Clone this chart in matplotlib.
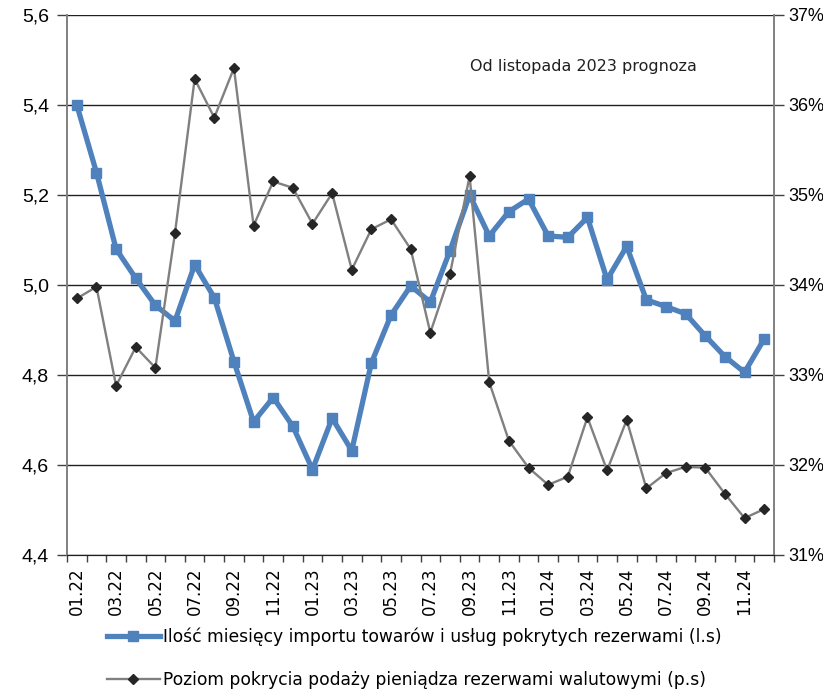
import matplotlib
matplotlib.use("Agg")
import matplotlib.pyplot as plt
from matplotlib.ticker import FixedLocator, FuncFormatter

# miesiace 01.22 - 12.24
months = ["%02d.%02d" % (m, y) for y in (22, 23, 24) for m in range(1, 13)]

# ilosc miesiecy importu pokrytych rezerwami (lewa os)
import_months = [5.40, 5.25, 5.08, 5.015, 4.955, 4.92, 5.045, 4.972, 4.83, 4.696,
                 4.75, 4.686, 4.59, 4.704, 4.632, 4.827, 4.933, 4.998, 4.962, 5.076,
                 5.20, 5.109, 5.163, 5.191, 5.109, 5.106, 5.150, 5.012, 5.086, 4.967,
                 4.952, 4.936, 4.887, 4.841, 4.806, 4.880]

# poziom pokrycia podazy pieniadza rezerwami (prawa os, %)
money_cover = [33.85, 33.98, 32.88, 33.31, 33.08, 34.58, 36.29, 35.86, 36.41, 34.66,
               35.15, 35.08, 34.68, 35.02, 34.17, 34.62, 34.73, 34.40, 33.47, 34.12,
               35.21, 32.92, 32.27, 31.97, 31.78, 31.87, 32.53, 31.94, 32.50, 31.74,
               31.91, 31.98, 31.97, 31.68, 31.41, 31.51]

left_ticks = [4.4, 4.6, 4.8, 5.0, 5.2, 5.4, 5.6]
right_ticks = [31, 32, 33, 34, 35, 36, 37]

label_blue = "Ilość miesięcy importu towarów i usług pokrytych rezerwami (l.s)"
label_gray = "Poziom pokrycia podaży pieniądza rezerwami walutowymi (p.s)"
note = "Od listopada 2023 prognoza"

x = list(range(len(months)))

fig = plt.figure(figsize=[8.23, 6.91], dpi=100)
ax = fig.add_axes([67 / 823, 1 - 555 / 691, (774 - 67) / 823, (555 - 15) / 691])
ax2 = ax.twinx()

ax.plot(x, import_months, '-s', color='#4F81BD', linewidth=3.8, markersize=7,
        label=label_blue, zorder=3)
ax2.plot(x, money_cover, '-D', color='#808080', linewidth=1.7, markersize=5,
         markerfacecolor='#262626', markeredgecolor='#262626', label=label_gray,
         zorder=3)

ax.set_xlim(-0.5, len(months) - 0.5)
ax.set_ylim(4.4, 5.6)
ax2.set_ylim(31, 37)

ax.yaxis.set_major_locator(FixedLocator(left_ticks))
ax.yaxis.set_major_formatter(FuncFormatter(lambda v, p: ("%.1f" % v).replace(".", ",")))
ax2.yaxis.set_major_locator(FixedLocator(right_ticks))
ax2.yaxis.set_major_formatter(FuncFormatter(lambda v, p: "%d%%" % round(v)))

ax.set_xticks(x[::2])
ax.set_xticklabels(months[::2], rotation=90, fontsize=12, family='DejaVu Sans')
ax.set_xticks([i - 0.5 for i in range(len(months) + 1)], minor=True)
ax.tick_params(axis='x', which='major', length=0, pad=9)
ax.tick_params(axis='x', which='minor', length=5, width=1, color='#404040')

for lab in ax.get_yticklabels():
    lab.set_family('Liberation Sans')
    lab.set_fontsize(14)
for lab in ax2.get_yticklabels():
    lab.set_family('Liberation Sans')
    lab.set_fontsize(13)
ax.tick_params(axis='y', length=7, width=1, color='#404040', pad=6)
ax2.tick_params(axis='y', length=7, width=1, color='#404040', pad=3)

ax.grid(axis='y', color='#202020', linewidth=1)
ax.set_axisbelow(True)
for a in (ax, ax2):
    a.spines['top'].set_visible(False)
    a.spines['left'].set_color('#808080')
    a.spines['right'].set_color('#808080')
    a.spines['bottom'].set_color('#202020')
    a.spines['left'].set_linewidth(1.2)
    a.spines['right'].set_linewidth(1.2)

ax.text(0.73, 0.905, note, transform=ax.transAxes, ha='center', va='center',
        fontsize=11.5, family='DejaVu Sans', color='#202020')

h1, l1 = ax.get_legend_handles_labels()
h2, l2 = ax2.get_legend_handles_labels()
fig.legend(h1 + h2, l1 + l2, loc='center left', bbox_to_anchor=(107 / 823, 1 - 658 / 691),
           frameon=False, prop={'family': 'DejaVu Sans', 'size': 12.3},
           handlelength=3.1, handletextpad=0.2, labelspacing=1.45,
           borderpad=0, borderaxespad=0)

plt.savefig('out.png')
